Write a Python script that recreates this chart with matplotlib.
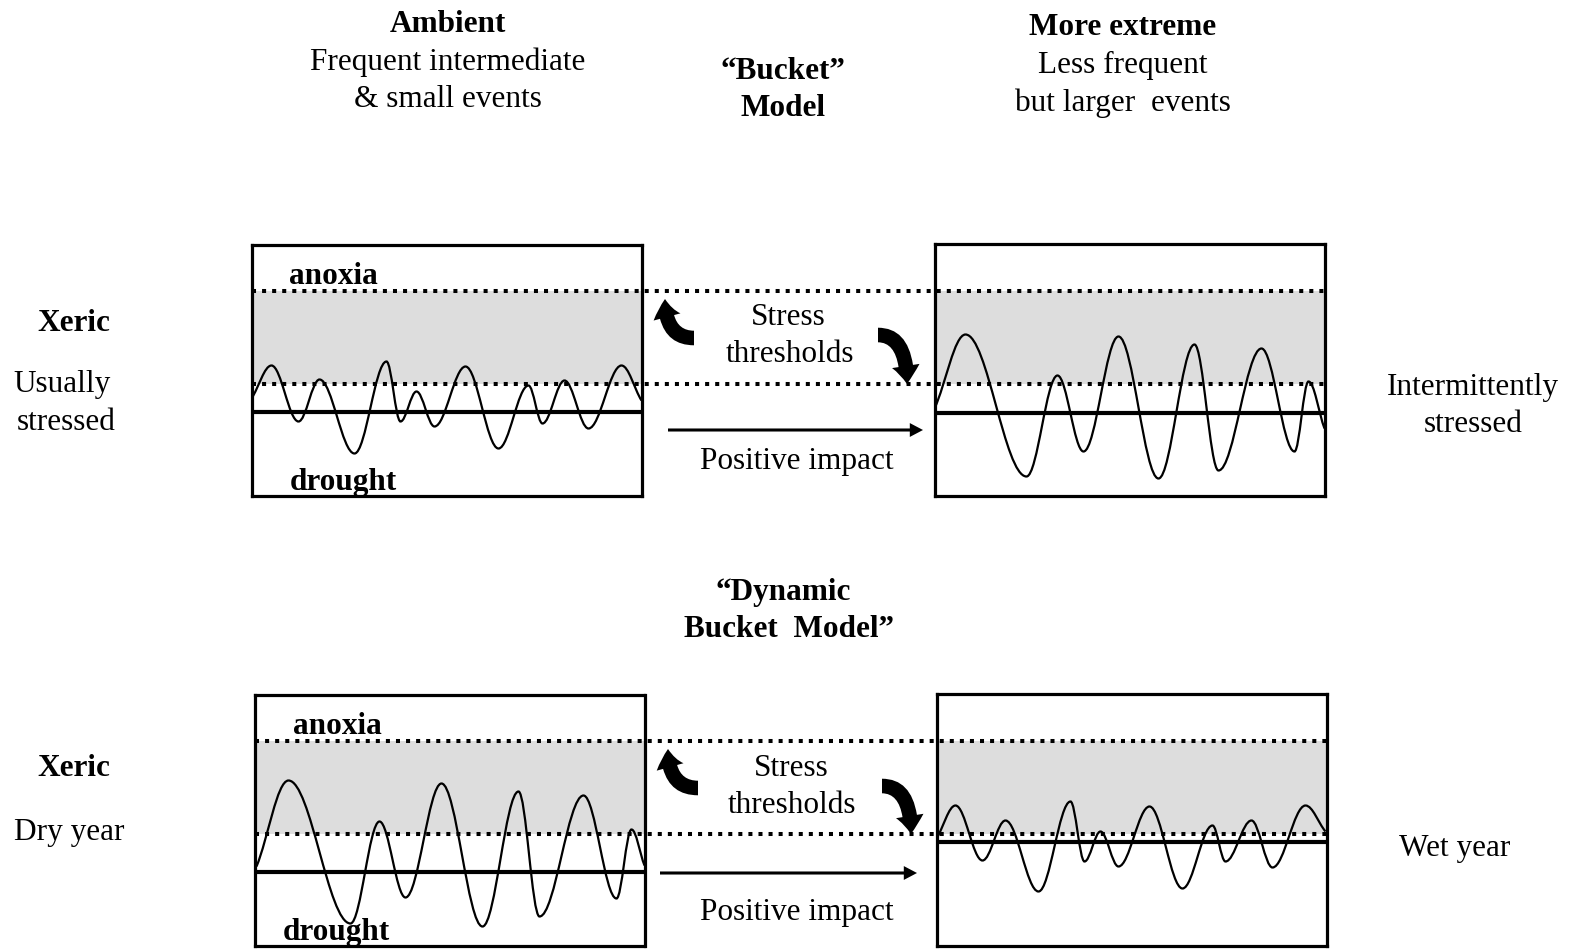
import matplotlib
matplotlib.use("Agg")
import matplotlib.pyplot as plt
from matplotlib.path import Path
from matplotlib.patches import PathPatch, FancyArrowPatch
from matplotlib.lines import Line2D

plt.rcParams['font.family'] = ['Liberation Serif', 'DejaVu Serif']

# ---------------- data (box-relative units: x = time, y = soil water level) ----------------
wave_tl_x = [0, 20, 47, 68, 103, 135, 149, 165, 183, 214, 247, 277, 291, 313, 337, 370, 390]
wave_tl_y = [97, 130, 74, 116, 42, 134, 74, 104, 69, 129, 47, 110, 72, 115, 67, 130, 95]

wave_tr_x = [0, 31, 92, 123, 149, 184, 224, 260, 284, 327, 360, 374, 390]
wave_tr_y = [87, 161, 19, 120, 44, 159, 17, 151, 25, 147, 44, 114, 67]

wave_bl_x = [1, 33, 95, 124, 150, 186, 227, 263, 284, 328, 361, 376, 389]
wave_bl_y = [79, 165, 22, 124, 48, 162, 19, 154, 29, 150, 47, 116, 80]

wave_br_x = [0, 19, 46, 69, 102, 134, 148, 164, 182, 213, 246, 276, 289, 315, 336, 369, 389]
wave_br_y = [107, 140, 85, 125, 54, 144, 84, 114, 79, 139, 57, 120, 84, 125, 78, 140, 114]

# thresholds: (anoxia threshold, drought-stress threshold, drought line)
thr_tl = (205, 112, 84)
thr_tr = (205, 112, 83)
thr_bl = (205, 112, 74)
thr_br = (205, 112, 104)

# ---------------- layout (pixels) ----------------
W, H = 1575, 952
fig = plt.figure(figsize=(W / 100, H / 100), dpi=100)

ax0 = fig.add_axes([0, 0, 1, 1])
ax0.set_xlim(0, W)
ax0.set_ylim(H, 0)
ax0.axis('off')
ax0.set_zorder(10)
ax0.patch.set_alpha(0)

boxes = {
    'tl': (251.5, 244.5, 390, 251),
    'tr': (934.5, 243.5, 390, 252),
    'bl': (255.5, 694.5, 389, 251),
    'br': (936.5, 693.5, 390, 252),
}
GRAY = '#dddddd'


def box_axes(key):
    x, y, w, h = boxes[key]
    ax = fig.add_axes([x / W, 1 - (y + h) / H, w / W, h / H])
    ax.set_xlim(0, w)
    ax.set_ylim(0, h)
    ax.set_xticks([])
    ax.set_yticks([])
    for s in ax.spines.values():
        s.set_linewidth(2.3)
        s.set_color('black')
    return ax


def wave_path(xs, ys, k=0.36):
    verts = [(xs[0], ys[0])]
    codes = [Path.MOVETO]
    n = len(xs)
    for i in range(n - 1):
        x0, y0, x1, y1 = xs[i], ys[i], xs[i + 1], ys[i + 1]
        d = x1 - x0
        if i == 0:
            c1 = (x0 + k * d, y0 + k * (y1 - y0) * 0.9)
        else:
            c1 = (x0 + k * d, y0)
        if i == n - 2:
            c2 = (x1 - k * d, y1 - k * (y1 - y0) * 0.9)
        else:
            c2 = (x1 - k * d, y1)
        verts += [c1, c2, (x1, y1)]
        codes += [Path.CURVE4] * 3
    return Path(verts, codes)


def draw_panel(key, xs, ys, thr):
    ax = box_axes(key)
    up, low, base = thr
    ax.axhspan(low, up, color=GRAY, lw=0, zorder=1)
    ax.axhline(base, color='black', lw=3.0, zorder=3)
    ax.add_patch(PathPatch(wave_path(xs, ys), fill=False, lw=1.6,
                           edgecolor='black', zorder=4, clip_on=True))
    return ax


ax_tl = draw_panel('tl', wave_tl_x, wave_tl_y, thr_tl)
ax_tr = draw_panel('tr', wave_tr_x, wave_tr_y, thr_tr)
ax_bl = draw_panel('bl', wave_bl_x, wave_bl_y, thr_bl)
ax_br = draw_panel('br', wave_br_x, wave_br_y, thr_br)


def dotted_row(ax_l, ax_r, thr):
    inv = fig.transFigure.inverted()
    for y in thr[:2]:
        xl, yl = inv.transform(ax_l.transData.transform((0, y)))
        xr, _ = inv.transform(ax_r.transData.transform((ax_r.get_xlim()[1], y)))
        fig.add_artist(Line2D([xl, xr], [yl, yl], transform=fig.transFigure,
                              color='black', lw=2.9, linestyle=(0, (1, 1.5)),
                              zorder=5))


dotted_row(ax_tl, ax_tr, thr_tl)
dotted_row(ax_bl, ax_br, thr_bl)

# ---------------- text ----------------
FS = 22.5
DY = 2.5


def txt(x, y, s, bold=False, ha='center'):
    ax0.text(x, y + DY, s, fontsize=FS, ha=ha, va='center',
             fontweight='bold' if bold else 'normal')


txt(448, 22, 'Ambient', True)
txt(448, 60, 'Frequent intermediate')
txt(448, 97, '& small events')
txt(783, 69, '\u201cBucket\u201d', True)
txt(783, 106, 'Model', True)
txt(1123, 25, 'More extreme', True)
txt(1123, 63, 'Less frequent')
txt(1123, 101, 'but larger  events')

txt(74, 321, 'Xeric', True)
txt(62, 382, 'Usually')
txt(66, 420, 'stressed')
txt(1473, 385, 'Intermittently')
txt(1473, 422, 'stressed')

txt(333, 274, 'anoxia', True)
txt(343, 480, 'drought', True)
txt(788, 315, 'Stress')
txt(790, 352, 'thresholds')
txt(797, 459, 'Positive impact')

txt(783, 590, '\u201cDynamic', True)
txt(789, 627, 'Bucket  Model\u201d', True)

txt(74, 766, 'Xeric', True)
txt(69, 830, 'Dry year')
txt(1455, 846, 'Wet year')

txt(337, 724, 'anoxia', True)
txt(336, 930, 'drought', True)
txt(791, 766, 'Stress')
txt(792, 803, 'thresholds')
txt(797, 910, 'Positive impact')

# ---------------- arrows ----------------
bent = "simple,head_length=13,head_width=20,tail_width=10.5"
straight = "simple,head_length=9.5,head_width=10,tail_width=2.2"


def arrow(p0, p1, style, conn="arc3,rad=0"):
    ax0.add_patch(FancyArrowPatch(p0, p1, arrowstyle=style, connectionstyle=conn,
                                  mutation_scale=1, color='black', lw=0,
                                  shrinkA=0, shrinkB=0))


arrow((694, 338), (665, 299), bent, "angle3,angleA=0,angleB=90")
arrow((878, 335), (907, 384), bent, "angle3,angleA=0,angleB=90")
arrow((698, 788), (668, 749), bent, "angle3,angleA=0,angleB=90")
arrow((882, 786), (911, 834), bent, "angle3,angleA=0,angleB=90")

arrow((668, 430), (923, 430), straight)
arrow((660, 873), (917, 873), straight)

fig.savefig('out.png', dpi=100, facecolor='white')
